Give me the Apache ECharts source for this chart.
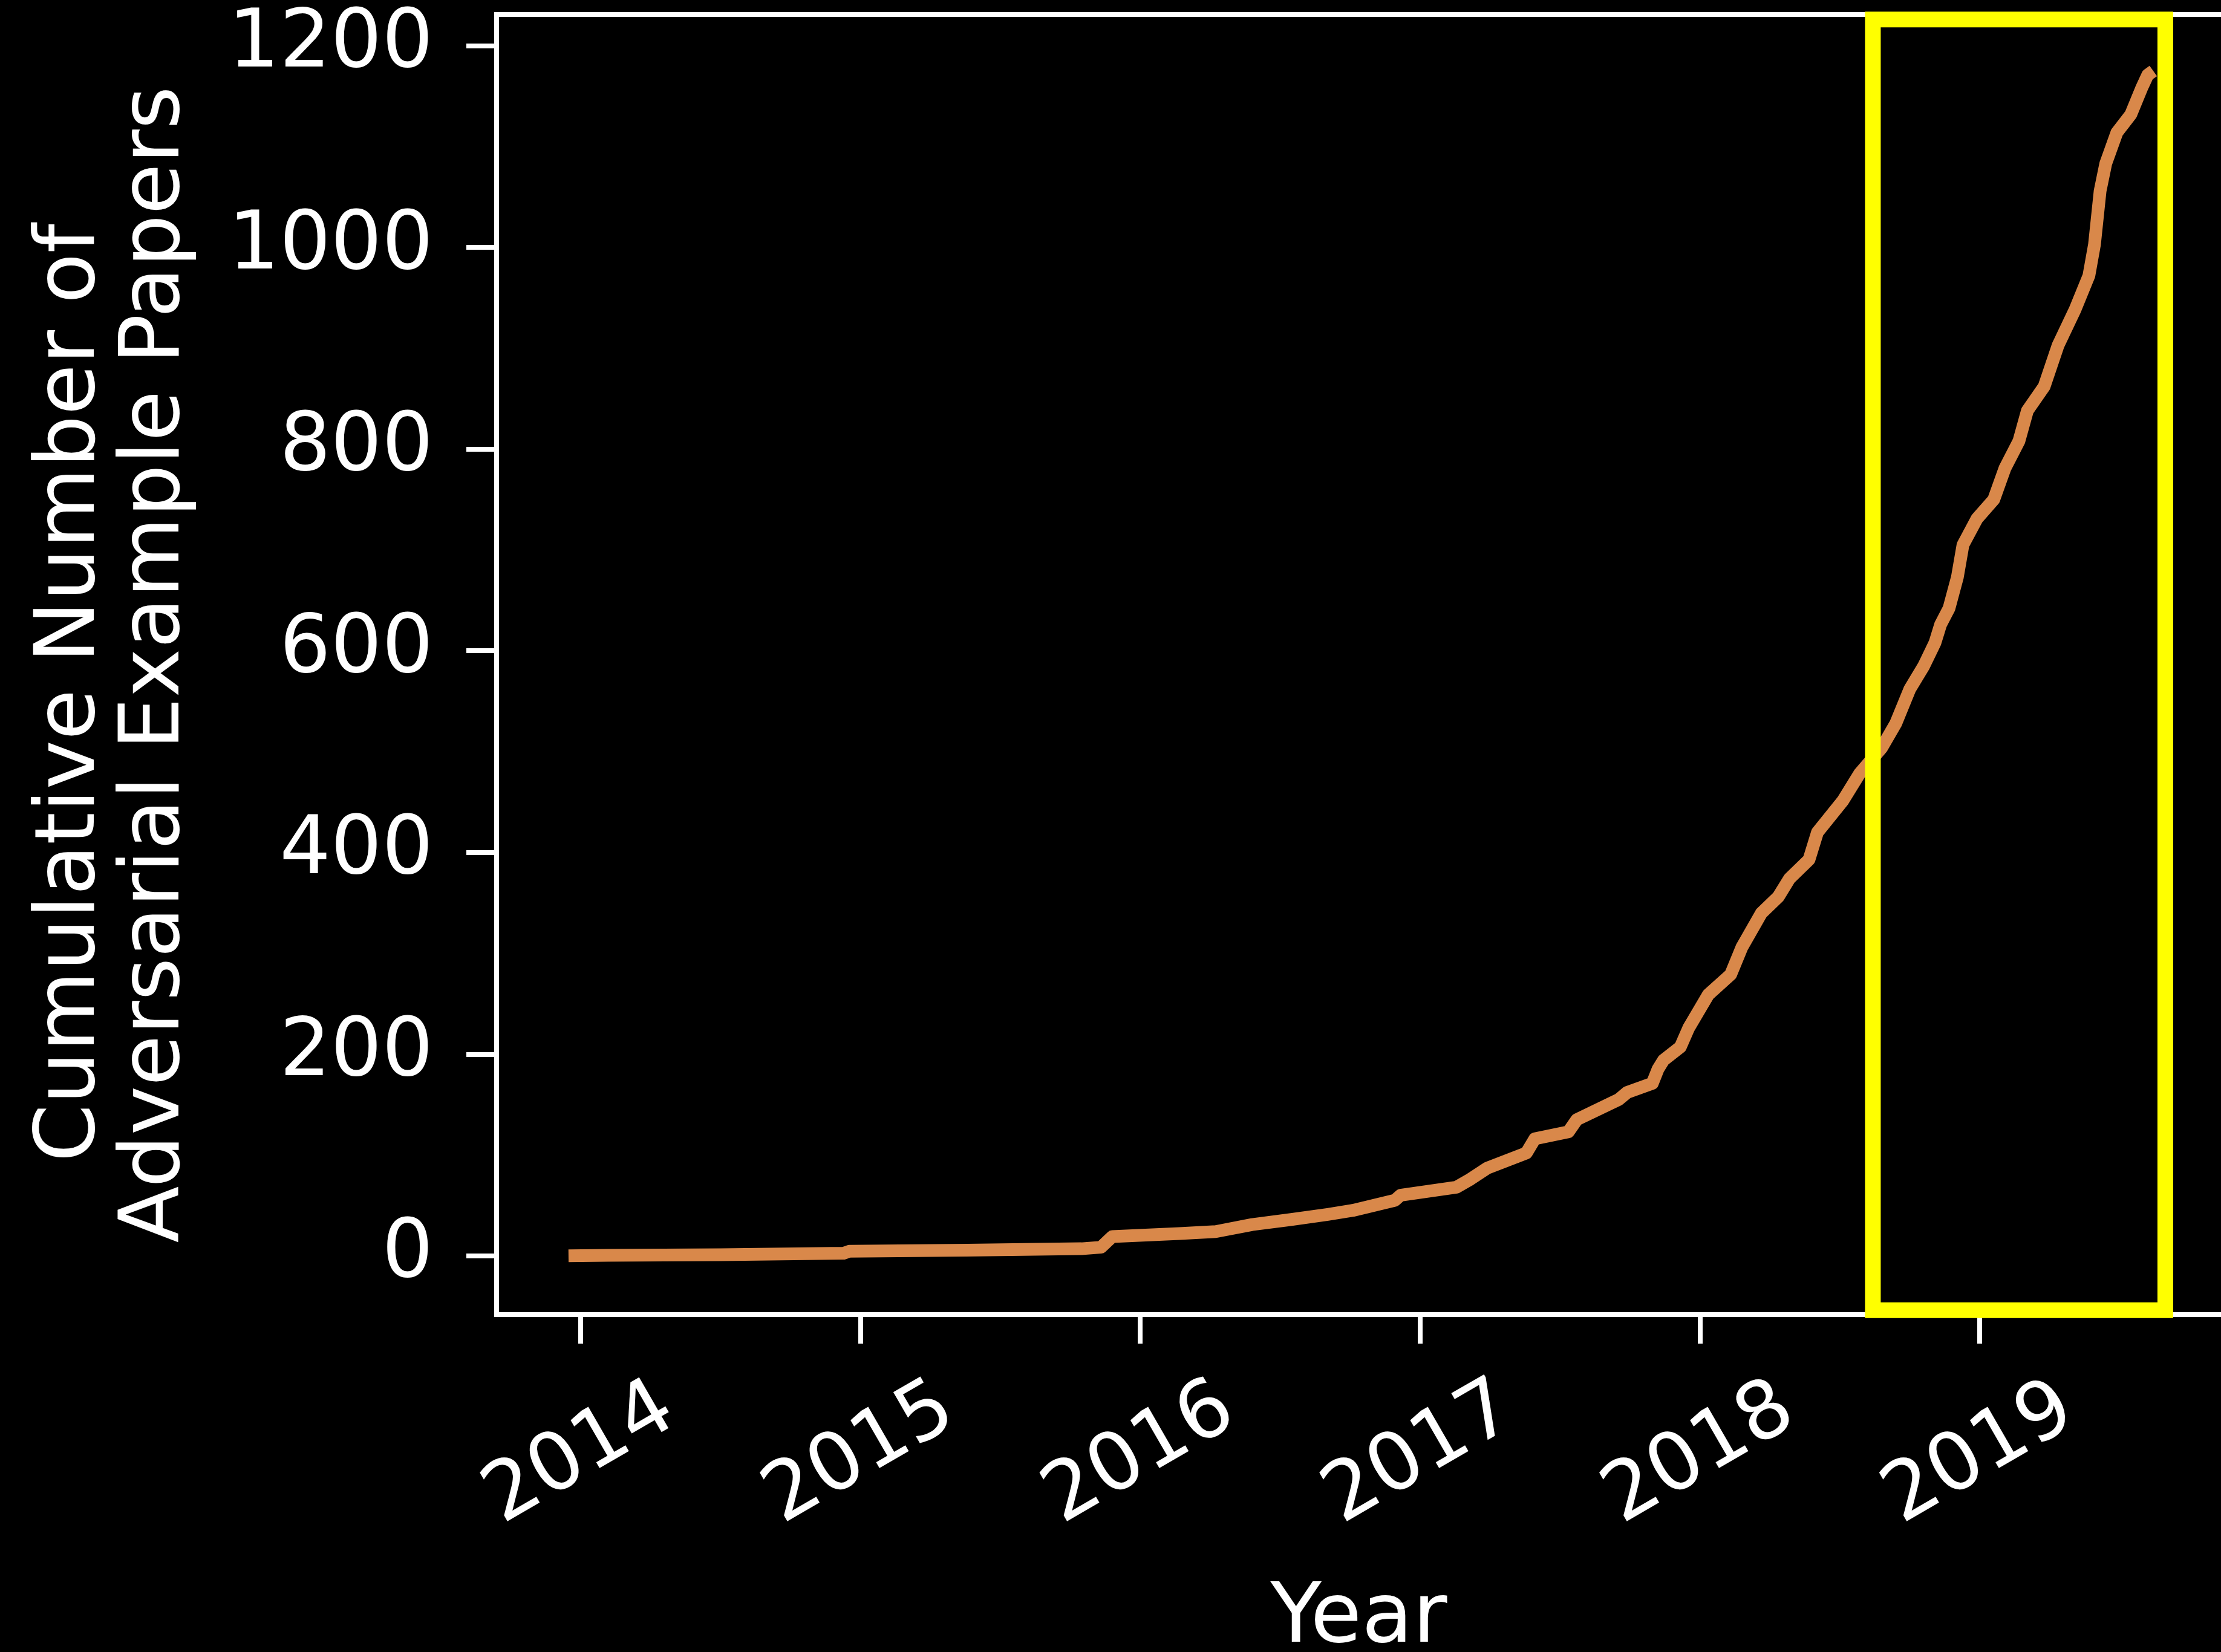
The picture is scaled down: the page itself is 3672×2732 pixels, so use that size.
<!DOCTYPE html>
<html>
<head>
<meta charset="utf-8">
<script src="https://cdn.jsdelivr.net/npm/echarts@6/dist/echarts.min.js"></script>
<style>
html,body{margin:0;padding:0;background:#000;}
#chart{width:3672px;height:2732px;}
</style>
</head>
<body>
<div id="chart"></div>
<script>
// ---- data ----
const years = [
  2013.957, 2014.10, 2014.50, 2014.94, 2014.96, 2015.38, 2015.79, 2015.86, 2015.90,
  2016.14, 2016.27, 2016.40, 2016.54, 2016.67, 2016.76, 2016.91, 2016.93,
  2017.13, 2017.18, 2017.24, 2017.38, 2017.41, 2017.53, 2017.56, 2017.71, 2017.74,
  2017.83, 2017.85, 2017.87, 2017.93, 2017.96,
  2018.03, 2018.11, 2018.15, 2018.22, 2018.28, 2018.32, 2018.39, 2018.42, 2018.51,
  2018.57, 2018.65, 2018.70, 2018.75, 2018.80, 2018.84, 2018.86, 2018.89, 2018.92,
  2018.94, 2018.99,
  2019.05, 2019.09, 2019.14, 2019.17, 2019.23, 2019.28, 2019.34, 2019.39, 2019.41,
  2019.43, 2019.45, 2019.49, 2019.54, 2019.58, 2019.60, 2019.62
];
const papers = [
  0, 0.5, 1, 2.5, 4.5, 5.5, 7, 8.5, 19,
  22, 24, 31, 36, 41, 45, 55, 60,
  68, 76, 87, 102, 116, 123, 135, 155, 162,
  171, 185, 194, 207, 226,
  259, 279, 306, 340, 356, 374, 393, 420, 451,
  478, 504, 528, 562, 585, 608, 626, 642, 673,
  705, 731,
  750, 781, 808, 838, 862, 903, 938, 972, 1003,
  1056, 1083, 1114, 1132, 1159, 1171, 1175
];
const xTickYears = [2014, 2015, 2016, 2017, 2018, 2019];
const yTickValues = [0, 200, 400, 600, 800, 1000, 1200];
const highlightYears = [2018.618, 2019.663];
const highlightValues = [-54, 1226];
const xAxisTitle = 'Year';
const yAxisTitleLines = ['Cumulative Number of', 'Adversarial Example Papers'];

// ---- chart ----
const FONT = 'DejaVu Sans';
const X_MIN = 2013.70, X_MAX = 2019.862;
const Y_MIN = -58.3, Y_MAX = 1231;

const lineData = years.map((y, i) => [y, papers[i]]);
const rectData = [
  [highlightYears[0], highlightValues[0]],
  [highlightYears[0], highlightValues[1]],
  [highlightYears[1], highlightValues[1]],
  [highlightYears[1], highlightValues[0]],
  [highlightYears[0], highlightValues[0]]
];

const chart = echarts.init(document.getElementById('chart'), null, {renderer: 'canvas'});
const spine = {color: '#ffffff', width: 8, cap: 'square'};
const titleStyle = {color: '#ffffff', fontSize: 137, lineHeight: 140, fontFamily: FONT};

chart.setOption({
  backgroundColor: '#000000',
  animation: false,
  grid: {left: 821, top: 24, right: 0, bottom: 558, show: false, containLabel: false, outerBoundsMode: 'none'},
  xAxis: [
    {
      type: 'value', min: X_MIN, max: X_MAX, position: 'bottom',
      axisLine: {show: true, onZero: false, lineStyle: spine},
      axisTick: {show: true, length: 48, lineStyle: {color: '#ffffff', width: 8}, customValues: xTickYears},
      axisLabel: {
        show: true, customValues: xTickYears, rotate: 30, align: 'center', verticalAlign: 'middle',
        margin: 232, color: '#ffffff', fontSize: 133, fontFamily: FONT,
        formatter: v => String(Math.round(v))
      },
      splitLine: {show: false},
      name: xAxisTitle, nameLocation: 'middle', nameGap: 436,
      nameTextStyle: {color: '#ffffff', fontSize: 138, fontFamily: FONT}
    },
    {
      type: 'value', min: X_MIN, max: X_MAX, position: 'top',
      axisLine: {show: true, onZero: false, lineStyle: spine},
      axisTick: {show: false}, axisLabel: {show: false}, splitLine: {show: false}
    }
  ],
  yAxis: {
    type: 'value', min: Y_MIN, max: Y_MAX,
    axisLine: {show: true, onZero: false, lineStyle: spine},
    axisTick: {show: true, length: 50, lineStyle: {color: '#ffffff', width: 8}, customValues: yTickValues},
    axisLabel: {
      show: true, customValues: yTickValues, margin: 105,
      color: '#ffffff', fontSize: 133, fontFamily: FONT,
      formatter: v => String(Math.round(v))
    },
    splitLine: {show: false},
    name: '{a|' + yAxisTitleLines[0] + '}\n{b|' + yAxisTitleLines[1] + '}',
    nameLocation: 'middle', nameGap: 492, nameRotate: 90,
    nameTextStyle: Object.assign({}, titleStyle, {
      rich: {
        a: Object.assign({}, titleStyle, {padding: [0, 94, 0, 0]}),
        b: Object.assign({}, titleStyle)
      }
    })
  },
  series: [
    {
      type: 'line', data: lineData, xAxisIndex: 0, yAxisIndex: 0,
      showSymbol: false, symbol: 'none', silent: true, clip: false, z: 3,
      lineStyle: {color: '#D9884A', width: 21, join: 'round', cap: 'butt'}
    },
    {
      type: 'line', data: rectData, xAxisIndex: 0, yAxisIndex: 0,
      showSymbol: false, symbol: 'none', silent: true, clip: false, z: 10,
      lineStyle: {color: '#FFFF00', width: 26, join: 'miter', cap: 'square'}
    }
  ]
});
</script>
</body>
</html>
